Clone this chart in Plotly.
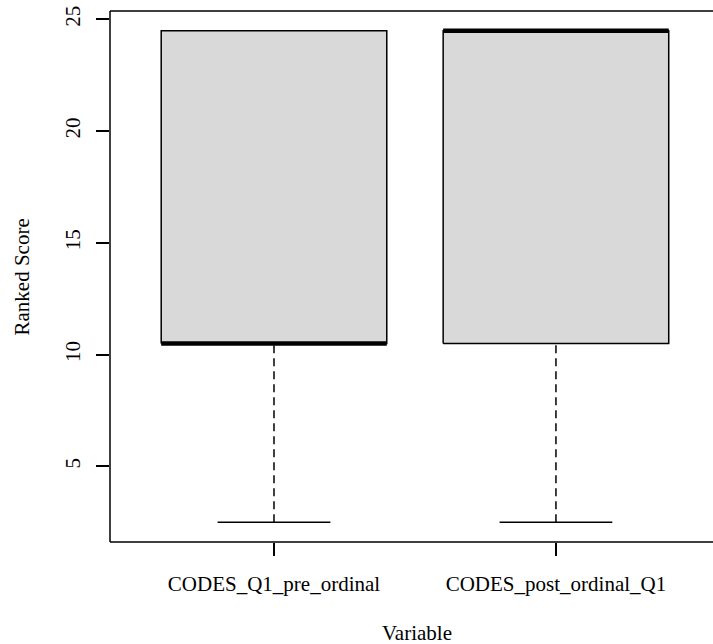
import plotly.graph_objects as go

categories = ["CODES_Q1_pre_ordinal", "CODES_post_ordinal_Q1"]
lower_whisker = [2.5, 2.5]
q1 = [10.5, 10.5]
median = [10.5, 24.5]
q3 = [24.5, 24.5]
upper_whisker = [24.5, 24.5]
y_ticks = [5, 10, 15, 20, 25]

BOX_HALF = 0.4
CAP_HALF = 0.2
FILL = "#D9D9D9"
FONT = "'Liberation Serif', 'Times New Roman', Times, serif"
FS = 21

fig = go.Figure()
for i, cat in enumerate(categories):
    x0 = i + 1
    fig.add_trace(go.Scatter(x=[x0, x0], y=[lower_whisker[i], q1[i]], mode="lines",
                             line=dict(color="black", width=1.5, dash="8px,5px"),
                             showlegend=False, hoverinfo="skip"))
    fig.add_trace(go.Scatter(x=[x0, x0], y=[q3[i], upper_whisker[i]], mode="lines",
                             line=dict(color="black", width=1.5, dash="8px,5px"),
                             showlegend=False, hoverinfo="skip"))
    for v in (lower_whisker[i], upper_whisker[i]):
        fig.add_trace(go.Scatter(x=[x0 - CAP_HALF, x0 + CAP_HALF], y=[v, v], mode="lines",
                                 line=dict(color="black", width=1.5),
                                 showlegend=False, hoverinfo="skip"))
    fig.add_trace(go.Scatter(
        x=[x0 - BOX_HALF, x0 + BOX_HALF, x0 + BOX_HALF, x0 - BOX_HALF, x0 - BOX_HALF],
        y=[q1[i], q1[i], q3[i], q3[i], q1[i]],
        mode="lines", fill="toself", fillcolor=FILL,
        line=dict(color="black", width=1.5),
        showlegend=False, name=cat))
    fig.add_trace(go.Scatter(x=[x0 - BOX_HALF, x0 + BOX_HALF], y=[median[i], median[i]],
                             mode="lines", line=dict(color="black", width=4.5),
                             showlegend=False, hoverinfo="skip"))

line_style = dict(color="black", width=1.5)
fig.add_shape(type="line", xref="paper", yref="paper", x0=0, x1=1.05, y0=1, y1=1, line=line_style)
fig.add_shape(type="line", xref="paper", yref="paper", x0=0, x1=1.05, y0=0, y1=0, line=line_style)
fig.add_shape(type="line", xref="paper", yref="paper", x0=0, x1=0, y0=0, y1=1, line=line_style)

fig.add_annotation(text="Ranked Score", xref="paper", yref="paper", x=-0.146, y=0.5,
                   textangle=-90, showarrow=False, xanchor="center", yanchor="middle",
                   font=dict(family=FONT, size=FS, color="black"))
fig.add_annotation(text="Variable", xref="paper", yref="paper", x=0.509, y=-0.171,
                   showarrow=False, xanchor="center", yanchor="middle",
                   font=dict(family=FONT, size=FS, color="black"))

fig.update_layout(
    width=713, height=644,
    margin=dict(l=110, r=0, t=11, b=102),
    plot_bgcolor="white", paper_bgcolor="white",
    font=dict(family=FONT, size=FS, color="black"),
    xaxis=dict(range=[0.4184, 2.557], tickvals=[1, 2], ticktext=categories,
               ticks="outside", ticklen=13, tickwidth=1.5, tickcolor="black",
               showgrid=False, zeroline=False, showline=False,
               ticklabelstandoff=10, tickfont=dict(family=FONT, size=FS)),
    yaxis=dict(range=[1.62, 25.38], tickvals=y_ticks,
               ticks="outside", ticklen=13, tickwidth=1.5, tickcolor="black",
               tickangle=-90, showgrid=False, zeroline=False, showline=False,
               ticklabelstandoff=8, tickfont=dict(family=FONT, size=FS)),
)

fig.write_html("out.html")
